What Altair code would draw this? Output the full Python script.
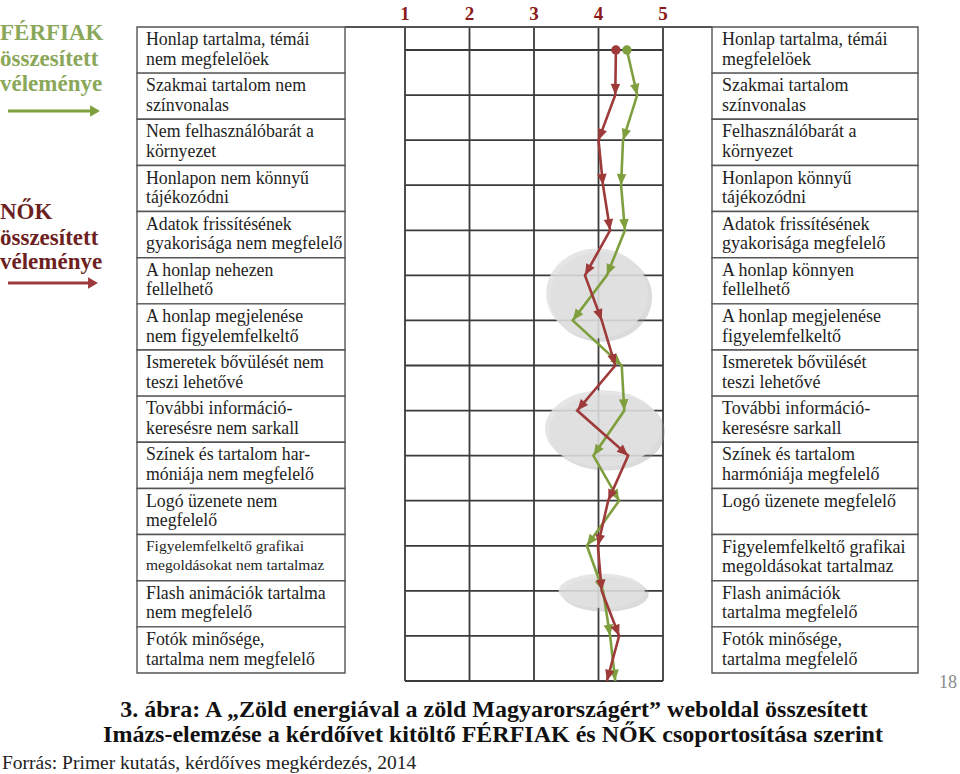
import math
import altair as alt
import pandas as pd

# ---------------- data ----------------
scores = [1, 2, 3, 4, 5]

left_labels = [
    "Honlap tartalma, témái\nnem megfelelöek",
    "Szakmai tartalom nem\nszínvonalas",
    "Nem felhasználóbarát a\nkörnyezet",
    "Honlapon nem könnyű\ntájékozódni",
    "Adatok frissítésének\ngyakorisága nem megfelelő",
    "A honlap nehezen\nfellelhető",
    "A honlap megjelenése\nnem figyelemfelkeltő",
    "Ismeretek bővülését nem\nteszi lehetővé",
    "További információ-\nkeresésre  nem sarkall",
    "Színek és tartalom har-\nmóniája nem megfelelő",
    "Logó üzenete nem\nmegfelelő",
    "Figyelemfelkeltő grafikai\nmegoldásokat nem tartalmaz",
    "Flash animációk tartalma\nnem megfelelő",
    "Fotók minősége,\ntartalma nem megfelelő",
]
right_labels = [
    "Honlap tartalma, témái\nmegfelelöek",
    "Szakmai tartalom\nszínvonalas",
    "Felhasználóbarát a\nkörnyezet",
    "Honlapon könnyű\ntájékozódni",
    "Adatok frissítésének\ngyakorisága megfelelő",
    "A honlap könnyen\nfellelhető",
    "A honlap megjelenése\nfigyelemfelkeltő",
    "Ismeretek bővülését\nteszi lehetővé",
    "További információ-\nkeresésre  sarkall",
    "Színek és tartalom\nharmóniája megfelelő",
    "Logó üzenete megfelelő",
    "Figyelemfelkeltő grafikai\nmegoldásokat tartalmaz",
    "Flash animációk\ntartalma megfelelő",
    "Fotók minősége,\ntartalma megfelelő",
]

steps = list(range(15))
men = [4.44, 4.60, 4.38, 4.35, 4.41, 4.13, 3.60, 4.36, 4.40, 3.92, 4.32, 3.82, 4.07, 4.18, 4.26]
women = [4.27, 4.26, 4.00, 4.07, 4.18, 3.79, 4.05, 4.26, 3.67, 4.46, 4.15, 3.99, 4.05, 4.32, 4.13]

# highlighted zones (grey ellipses)
hl_x = [3.98, 4.07, 4.05]
hl_step = [5.4, 8.4, 12.0]

# ---------------- styling / geometry ----------------
GREEN = "#7f9f3f"
RED = "#9e3a3a"
TXT_GREEN = "#8ba75a"
TXT_RED = "#6e1f1f"
SERIF = "'Liberation Serif', 'Times New Roman', 'DejaVu Serif', serif"

X_RANGE = [405, 663]
G_RANGE = [50, 681]
T_RANGE = [27, 673]
XS = alt.Scale(domain=[1, 5], range=X_RANGE)
GS = alt.Scale(domain=[0, 14], range=G_RANGE)
TS = alt.Scale(domain=[0, 14], range=T_RANGE)
px_x = (X_RANGE[1] - X_RANGE[0]) / 4
px_y = (G_RANGE[1] - G_RANGE[0]) / 14

# ---------------- tables ----------------
rows = pd.DataFrame({
    "row": list(range(14)),
    "left": left_labels,
    "right": right_labels,
})
rows["top"] = rows["row"]
rows["bottom"] = rows["row"] + 1
rows["ty"] = rows["row"] + 0.09

base_rows = alt.Chart(rows)
left_box = base_rows.mark_rect(fill="white", stroke="#555555", strokeWidth=1.4).encode(
    x=alt.value(137), x2=alt.value(345),
    y=alt.Y("top:Q", scale=TS, axis=None), y2="bottom:Q")
right_box = base_rows.mark_rect(fill="white", stroke="#555555", strokeWidth=1.4).encode(
    x=alt.value(712), x2=alt.value(918),
    y=alt.Y("top:Q", scale=TS, axis=None), y2="bottom:Q")
left_txt = base_rows.mark_text(align="left", baseline="top", lineBreak="\n", font=SERIF,
                               lineHeight=19.5, color="#1e1e1e").encode(
    x=alt.value(146), y=alt.Y("ty:Q", scale=TS, axis=None), text="left:N",
    size=alt.condition(alt.datum.row == 11, alt.value(15.5), alt.value(17.8)))
right_txt = base_rows.mark_text(align="left", baseline="top", lineBreak="\n", font=SERIF,
                                lineHeight=19.5, fontSize=18, color="#1e1e1e").encode(
    x=alt.value(722), y=alt.Y("ty:Q", scale=TS, axis=None), text="right:N")

# ---------------- grid ----------------
sc = pd.DataFrame({"s": scores, "lab": [str(s) for s in scores]})
vgrid = alt.Chart(sc).mark_rule(color="#3a3a3a", strokeWidth=1.8).encode(
    x=alt.X("s:Q", scale=XS, axis=None), y=alt.value(27), y2=alt.value(G_RANGE[1]))
head = alt.Chart(sc).mark_text(font=SERIF, fontWeight="bold", fontSize=19, color="#8b1a1a",
                               baseline="middle").encode(
    x=alt.X("s:Q", scale=XS, axis=None), y=alt.value(14), text="lab:N")
topline = alt.Chart(sc).mark_rule(color="#555555", strokeWidth=1.6).encode(
    x=alt.value(345), x2=alt.value(712), y=alt.value(27))
hgrid = alt.Chart(pd.DataFrame({"step": steps})).transform_calculate(
    lo="1", hi="5").mark_rule(color="#3a3a3a", strokeWidth=1.8).encode(
    x=alt.X("lo:Q", scale=XS, axis=None), x2="hi:Q",
    y=alt.Y("step:Q", scale=GS, axis=None))

# ---------------- highlight ellipses ----------------
ell = pd.DataFrame({"x": hl_x, "step": hl_step})
ell["w"] = [102, 116, 86]
ell["r"] = [0.88, 0.66, 0.40]
ell["shape"] = [f"M-1,0A1,{r} 0 1,1 1,0A1,{r} 0 1,1 -1,0Z" for r in ell["r"]]
ell["size"] = ell["w"] ** 2
ell["xs"] = ell["x"] + 0.06
ell["ys"] = ell["step"] + 0.08
shadow = alt.Chart(ell).mark_point(filled=True, color="#999999", opacity=0.35, strokeWidth=0).encode(
    x=alt.X("xs:Q", scale=XS, axis=None), y=alt.Y("ys:Q", scale=GS, axis=None),
    shape=alt.Shape("shape:N", scale=None), size=alt.Size("size:Q", scale=None))
ellipse = alt.Chart(ell).mark_point(filled=True, color="#e0e0e0", opacity=0.85, strokeWidth=0).encode(
    x=alt.X("x:Q", scale=XS, axis=None), y=alt.Y("step:Q", scale=GS, axis=None),
    shape=alt.Shape("shape:N", scale=None), size=alt.Size("size:Q", scale=None))

# ---------------- series ----------------
recs = []
for grp, vals in (("FÉRFIAK", men), ("NŐK", women)):
    for i, v in enumerate(vals):
        if i == 0:
            ang = 0.0
        else:
            dx = (v - vals[i - 1]) * px_x
            ang = math.degrees(math.atan2(-dx, px_y)) % 360
        recs.append({"grp": grp, "step": steps[i], "v": v, "ang": ang})
ser = pd.DataFrame(recs)
color = alt.Color("grp:N", scale=alt.Scale(domain=["FÉRFIAK", "NŐK"], range=[GREEN, RED]), legend=None)

lines = alt.Chart(ser).mark_line(strokeWidth=2.6).encode(
    x=alt.X("v:Q", scale=XS, axis=None), y=alt.Y("step:Q", scale=GS, axis=None),
    color=color, detail="grp:N", order="step:Q")
ARROW = "M0,0L-0.55,-1.3L0.55,-1.3Z"
heads = alt.Chart(ser).transform_filter(alt.datum.step > 0).mark_point(
    filled=True, shape=ARROW, size=300, opacity=1, strokeWidth=0).encode(
    x=alt.X("v:Q", scale=XS, axis=None), y=alt.Y("step:Q", scale=GS, axis=None),
    color=color, angle=alt.Angle("ang:Q", scale=None))
dots = alt.Chart(ser).transform_filter(alt.datum.step == 0).mark_point(
    filled=True, shape="circle", size=90, opacity=1).encode(
    x=alt.X("v:Q", scale=XS, axis=None), y=alt.Y("step:Q", scale=GS, axis=None),
    color=color)

# ---------------- side legend ----------------
one = pd.DataFrame({"a": [0]})
def txt(s, x, y, size, color, weight="normal", align="left", font=SERIF):
    return alt.Chart(one).mark_text(text=s, align=align, baseline="middle", font=font,
                                    fontSize=size, fontWeight=weight, color=color).encode(
        x=alt.value(x), y=alt.value(y))

legend_layers = [
    txt("FÉRFIAK", 0, 33, 23, TXT_GREEN, "bold"),
    txt("összesített", 0, 59, 23, TXT_GREEN, "bold"),
    txt("véleménye", 0, 84, 23, TXT_GREEN, "bold"),
    txt("NŐK", 0, 212, 23, TXT_RED, "bold"),
    txt("összesített", 0, 238, 23, TXT_RED, "bold"),
    txt("véleménye", 0, 262, 23, TXT_RED, "bold"),
]
legend_layers += [
    alt.Chart(one).mark_rule(color=GREEN, strokeWidth=3).encode(
        x=alt.value(8), x2=alt.value(92), y=alt.value(111)),
    alt.Chart(one).mark_point(shape="triangle-right", filled=True, size=130, color=GREEN, opacity=1).encode(
        x=alt.value(95), y=alt.value(111)),
    alt.Chart(one).mark_rule(color=RED, strokeWidth=3).encode(
        x=alt.value(8), x2=alt.value(90), y=alt.value(283)),
    alt.Chart(one).mark_point(shape="triangle-right", filled=True, size=130, color=RED, opacity=1).encode(
        x=alt.value(93), y=alt.value(283)),
]

captions = [
    txt("3. ábra:  A „Zöld energiával a zöld Magyarországért” weboldal összesített", 494, 710, 24,
        "#111111", "bold", "center"),
    txt("Imázs-elemzése a kérdőívet kitöltő FÉRFIAK és NŐK csoportosítása szerint", 493, 735, 24,
        "#111111", "bold", "center"),
    txt("Forrás: Primer kutatás, kérdőíves megkérdezés, 2014", 2, 763, 19.5, "#222222"),
    txt("18", 948, 683, 18, "#8a8a8a", "normal", "center"),
]

chart = alt.layer(
    left_box, right_box, left_txt, right_txt,
    vgrid, hgrid, topline, head,
    shadow, ellipse,
    lines, heads, dots,
    *legend_layers, *captions,
).resolve_scale(y="independent").properties(
    width=960, height=774, autosize="none", padding=0, background="white"
).configure_view(stroke=None)

chart.save("out.html", embed_options={"renderer": "svg", "actions": False})
